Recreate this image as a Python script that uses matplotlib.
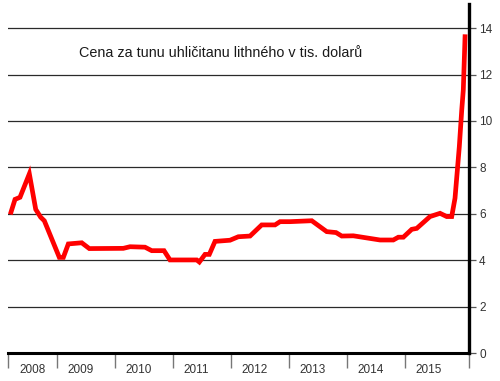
import matplotlib
matplotlib.use("Agg")
import matplotlib.pyplot as plt
import numpy as np

plt.rcParams['font.family'] = ['Liberation Sans', 'DejaVu Sans']

# decimal-year positions and price (thousand USD per tonne)
t = [2008.212, 2008.281, 2008.367, 2008.528, 2008.638, 2008.724, 2008.786,
     2009.045, 2009.114, 2009.200, 2009.431, 2009.562, 2010.148, 2010.264,
     2010.522, 2010.638, 2010.850, 2010.953, 2011.414, 2011.459, 2011.557,
     2011.631, 2011.729, 2011.988, 2012.131, 2012.333, 2012.534, 2012.764,
     2012.850, 2013.022, 2013.397, 2013.655, 2013.816, 2013.914, 2014.114,
     2014.574, 2014.803, 2014.890, 2014.976, 2015.121, 2015.207, 2015.436,
     2015.609, 2015.724, 2015.810, 2015.867, 2015.941, 2015.983, 2016.010,
     2016.040]
price = [6.07, 6.62, 6.71, 7.72, 6.19, 5.85, 5.70,
         4.12, 4.12, 4.70, 4.75, 4.50, 4.51, 4.58,
         4.56, 4.41, 4.41, 4.01, 4.01, 3.92, 4.25,
         4.25, 4.81, 4.86, 5.01, 5.04, 5.52, 5.52,
         5.66, 5.66, 5.70, 5.23, 5.19, 5.04, 5.05,
         4.87, 4.87, 4.99, 4.99, 5.33, 5.37, 5.88,
         6.02, 5.88, 5.88, 6.67, 8.89, 10.47, 11.34,
         13.63]
years = [2008, 2009, 2010, 2011, 2012, 2013, 2014, 2015]
yticks = [0, 2, 4, 6, 8, 10, 12, 14]
title = "Cena za tunu uhličitanu lithného v tis. dolarů"

x0, x1 = 2008.160, 2016.103

fig = plt.figure(figsize=(5.0, 3.81), dpi=100)
ax = fig.add_axes([8/500, 28/381, (468.7-8)/500, (353-4)/381])
ax.set_xlim(x0, x1)
ax.set_ylim(0, 15.04)

for v in yticks[1:]:
    ax.axhline(v, color='#2a2a2a', lw=0.9, zorder=1)

ax.plot(t, price, color='#ff0000', lw=3.4, solid_joinstyle='miter', zorder=3)

for s in ['top', 'left']:
    ax.spines[s].set_visible(False)
ax.spines['bottom'].set_linewidth(2.2)
ax.spines['right'].set_linewidth(2.4)
ax.spines['bottom'].set_color('black')
ax.spines['right'].set_color('black')

ax.yaxis.tick_right()
ax.set_yticks(yticks)
ax.set_yticklabels([str(v) for v in yticks])
ax.tick_params(axis='y', which='major', length=5, width=0.9, color='#555555',
               labelsize=8.5, labelcolor='#333333', pad=2.5)

# year boundary ticks and centered labels
bounds = [x0] + years[1:] + [x1]
ax.set_xticks(bounds, minor=True)
ax.tick_params(axis='x', which='minor', length=11, width=1.0, color='#777777')
lab_pos = [(x0 + 2009) / 2] + [y + 0.41 for y in years[1:]]
ax.set_xticks(lab_pos)
ax.set_xticklabels([str(y) for y in years])
ax.tick_params(axis='x', which='major', length=0, labelsize=8.5,
               labelcolor='#333333', pad=8)

ax.text((220.5 - 8) / 460.7, 1 - (53 - 4) / 349, title, transform=ax.transAxes,
        ha='center', va='center', fontsize=10.4, color='#1a1a1a')

fig.savefig('out.png', dpi=100)
